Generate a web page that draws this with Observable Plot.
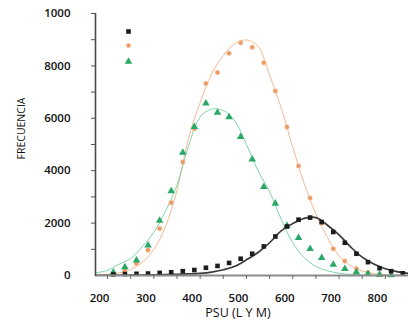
<!DOCTYPE html>
<html>
<head>
<meta charset="utf-8">
<script src="https://cdn.jsdelivr.net/npm/d3@7"></script>
<script src="https://cdn.jsdelivr.net/npm/@observablehq/plot@0.6"></script>
<style>
  html, body { margin: 0; padding: 0; background: #fff; }
  #chart svg { display: block; }
  #chart svg text { font-family: "Open Sans", sans-serif; }
</style>
</head>
<body>
<div id="chart"></div>
<script>
// ---- data ----
const binX = [212.5, 237.5, 262.5, 287.5, 312.5, 337.5, 362.5, 387.5, 412.5, 437.5, 462.5, 487.5, 512.5,
              537.5, 562.5, 587.5, 612.5, 637.5, 662.5, 687.5, 712.5, 737.5, 762.5, 787.5, 812.5, 837.5];
const blackPts  = [40, 55, 65, 75, 100, 125, 165, 210, 295, 365, 480, 640, 830,
                   1110, 1490, 1870, 2130, 2210, 2040, 1660, 1250, 830, 510, 280, 165, 85];
const orangePts = [70, 190, 460, 970, 1790, 2780, 4330, 5600, 7330, 7750, 8480, 8880, 8710,
                   8120, 7040, 5670, 4180, 2960, 2000, 1020, 550, 260, 110, 45, null, null];
const greenPts  = [120, 320, 575, 1150, 2100, 3220, 4690, 5670, 6570, 6220, 6050, 5290, 4430,
                   3380, 2750, 1900, 1440, 1020, 675, 420, 255, 130, 60, 30, 15, null];

const curveX = [175, 200, 225, 250, 275, 300, 325, 350, 375, 400, 425, 450, 475, 500,
                525, 550, 575, 600, 625, 650, 675, 700, 725, 750, 775, 800, 825, 850];
const blackFit  = [3, 5, 8, 12, 18, 25, 35, 48, 60, 80, 130, 220, 350, 600,
                   880, 1250, 1700, 1980, 2180, 2210, 1920, 1550, 1090, 700, 440, 260, 150, 80];
const orangeFit = [15, 40, 100, 230, 500, 1000, 1850, 3250, 5250, 6600, 7700, 8400, 8850, 8990,
                   8750, 7650, 6400, 4900, 3500, 2350, 1450, 750, 380, 170, 70, 30, 12, 5];
const greenFit  = [100, 200, 430, 650, 1100, 1650, 2450, 3450, 4950, 6050, 6350, 6300, 5900, 5000,
                   4000, 3200, 2150, 1250, 680, 350, 180, 90, 40, 15, 5, 2, 1, 0];

const xTickValues = [200, 250, 300, 350, 400, 450, 500, 550, 600, 650, 700, 750, 800];
const xLabelValues = [200, 300, 400, 500, 600, 700, 800];
const yMinorTicks = [1000, 2000, 3000, 4000, 5000, 6000, 7000, 8000, 9000, 10000];
const yLabelValues = [0, 2000, 4000, 6000, 8000, 10000];
const yLabelTexts = ["0", "2000", "4000", "6000", "8000", "1000"];
const xTitle = "PSU (L Y M)";
const yTitle = "FRECUENCIA";

// ---- build tables ----
const pts = (arr) => binX.map((x, i) => ({x, y: arr[i]})).filter(d => d.y != null);
const fit = (arr) => curveX.map((x, i) => ({x, y: arr[i]}));
const yLabelMap = new Map(yLabelValues.map((v, i) => [v, yLabelTexts[i]]));

const cBlack = "#1c1c1c", cOrange = "#ec9a62", cGreen = "#2aa866";

const plot = Plot.plot({
  width: 408,
  height: 321,
  marginLeft: 95,
  marginRight: 0,
  marginTop: 13,
  marginBottom: 46,
  style: {fontFamily: "Open Sans", fontSize: "11px", color: "#111", background: "#fff"},
  x: {domain: [174, 850], axis: null},
  y: {domain: [0, 10000], axis: null},
  marks: [
    // fitted curves
    Plot.line(fit(orangeFit), {x: "x", y: "y", stroke: "#f7b992", strokeWidth: 1, curve: "catmull-rom", clip: true}),
    Plot.line(fit(greenFit), {x: "x", y: "y", stroke: "#82d4a8", strokeWidth: 1, curve: "catmull-rom", clip: true}),
    Plot.line(fit(blackFit), {x: "x", y: "y", stroke: "#3a3a3a", strokeWidth: 1.7, curve: "catmull-rom", clip: true}),
    // observed points
    Plot.dot(pts(orangePts), {x: "x", y: "y", symbol: "circle", r: 2.3, fill: cOrange, stroke: "#f5c3a0", strokeWidth: 0.6}),
    Plot.dot(pts(greenPts), {x: "x", y: "y", symbol: "triangle", r: 2.8, fill: cGreen}),
    Plot.dot(pts(blackPts), {x: "x", y: "y", symbol: "square", r: 2.6, fill: cBlack}),
    // axis lines
    Plot.ruleY([0], {stroke: "#8c8c8c", strokeWidth: 2.2}),
    Plot.ruleX([174], {y1: -40, y2: 10000, stroke: "#4a4a4a", strokeWidth: 1.6}),
    // x ticks and labels
    Plot.axisX({ticks: xTickValues, tickSize: 4, tickFormat: () => "", stroke: "#666", label: null}),
    Plot.axisX({ticks: xLabelValues, tickSize: 0, tickPadding: 18, dx: -8, label: null,
                fontWeight: 600, fontSize: 11.5, fill: "#111"}),
    // y ticks and labels
    Plot.axisY({ticks: yMinorTicks, tickSize: 4, tickFormat: () => "", stroke: "#555", label: null}),
    Plot.axisY({ticks: yLabelValues, tickSize: 0, tickPadding: 25, label: null,
                tickFormat: d => yLabelMap.get(d), fontWeight: 600, fontSize: 11.5, fill: "#111"}),
    // axis titles
    Plot.text([xTitle], {frameAnchor: "bottom", dx: -14, dy: 41, fontSize: 12.5, fontWeight: 500, fill: "#111"}),
    Plot.text([yTitle], {frameAnchor: "left", textAnchor: "middle", rotate: -90, dx: -74, dy: -16, fontSize: 10.5, fill: "#111"}),
    // legend markers (no text in the original)
    Plot.dot([0], {frameAnchor: "top-left", dx: 33, dy: 18, symbol: "square", r: 2.6, fill: cBlack}),
    Plot.dot([0], {frameAnchor: "top-left", dx: 33, dy: 32, symbol: "circle", r: 2.3, fill: cOrange}),
    Plot.dot([0], {frameAnchor: "top-left", dx: 33, dy: 48, symbol: "triangle", r: 2.8, fill: cGreen})
  ]
});
document.getElementById("chart").appendChild(plot);
</script>
</body>
</html>
